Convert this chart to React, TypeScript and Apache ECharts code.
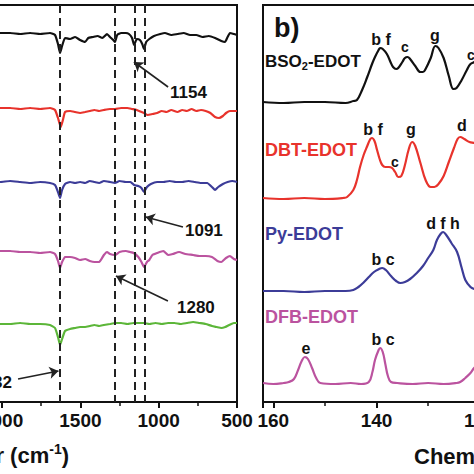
import React, { useEffect, useRef } from "react";
import * as echarts from "echarts";

const FONT = '"Liberation Sans", Arial, sans-serif';

// ---------- Panel a) FT-IR (wavenumber cm-1, offset trace position) ----------
const IR_RANGE = { min: 500, max: 2141, interval: 500 };
const IR_MARKERS = [1632, 1280, 1154, 1091];

const IR_BSO2: [number, number][] = [
  [2141, 33], [2013, 33], [1949, 33], [1885, 34], [1821, 33], [1757, 34], [1694, 33], [1662, 35],
  [1643, 44], [1630, 53], [1617, 46], [1598, 38], [1566, 39], [1534, 37], [1502, 40], [1470, 42],
  [1450, 38], [1420, 37], [1390, 36], [1360, 38], [1330, 34], [1311, 37], [1290, 40], [1279, 42],
  [1265, 35], [1240, 33], [1210, 33], [1190, 34], [1170, 38], [1157, 45], [1140, 39], [1120, 40],
  [1105, 44], [1094, 49], [1080, 42], [1060, 39], [1030, 36], [990, 34], [960, 33], [920, 35],
  [880, 34], [840, 33], [800, 35], [760, 35], [720, 37], [680, 36], [640, 38], [600, 41],
  [577, 42], [560, 37], [545, 33], [520, 34], [500, 35],
];
const IR_DBT: [number, number][] = [
  [2141, 108], [2013, 108], [1949, 108], [1885, 109], [1821, 108], [1757, 109], [1694, 108], [1662, 110],
  [1643, 118], [1625, 127], [1610, 119], [1598, 112], [1566, 111], [1534, 112], [1502, 113], [1470, 112],
  [1440, 111], [1410, 110], [1380, 111], [1350, 110], [1311, 109], [1279, 109], [1240, 108], [1200, 108],
  [1170, 109], [1140, 110], [1110, 112], [1094, 113], [1070, 115], [1040, 114], [1010, 113], [980, 111],
  [950, 112], [920, 110], [880, 112], [850, 110], [820, 111], [790, 109], [760, 111], [730, 110],
  [700, 111], [670, 113], [640, 117], [615, 118], [590, 116], [570, 113], [545, 111], [500, 111],
];
const IR_PY: [number, number][] = [
  [2141, 182], [2013, 182], [1949, 181], [1885, 182], [1821, 183], [1757, 182], [1694, 183], [1662, 185],
  [1643, 192], [1630, 198], [1617, 190], [1598, 184], [1566, 182], [1534, 183], [1502, 182], [1470, 183],
  [1440, 181], [1410, 182], [1380, 183], [1350, 181], [1311, 182], [1279, 183], [1250, 181], [1210, 182],
  [1180, 182], [1157, 185], [1130, 186], [1110, 188], [1094, 192], [1075, 187], [1050, 184], [1010, 182],
  [970, 182], [930, 181], [890, 182], [850, 182], [810, 181], [770, 182], [730, 183], [690, 183],
  [660, 187], [640, 190], [620, 187], [590, 184], [560, 182], [530, 181], [500, 182],
];
const IR_DFB: [number, number][] = [
  [2141, 251], [2013, 251], [1949, 251], [1885, 252], [1821, 252], [1757, 253], [1694, 252], [1662, 254],
  [1643, 261], [1630, 268], [1617, 262], [1598, 257], [1566, 257], [1534, 258], [1502, 260], [1470, 259],
  [1440, 261], [1410, 262], [1380, 262], [1350, 255], [1330, 252], [1311, 254], [1279, 255], [1250, 252],
  [1210, 251], [1183, 252], [1160, 253], [1130, 257], [1110, 262], [1094, 267], [1075, 262], [1060, 260],
  [1040, 255], [1010, 253], [970, 251], [940, 255], [910, 254], [870, 252], [830, 254], [780, 255],
  [740, 256], [700, 256], [660, 257], [625, 261], [600, 262], [570, 258], [545, 256], [520, 259], [500, 260],
];
const IR_EDOT: [number, number][] = [
  [2141, 324], [2013, 324], [1949, 324], [1885, 323], [1821, 324], [1757, 324], [1694, 325], [1662, 328],
  [1643, 337], [1630, 345], [1617, 339], [1598, 331], [1566, 329], [1534, 328], [1502, 327], [1470, 327],
  [1440, 326], [1410, 325], [1380, 326], [1350, 325], [1311, 324], [1279, 323], [1240, 323], [1200, 324],
  [1160, 323], [1120, 323], [1094, 323], [1060, 324], [1020, 323], [980, 324], [940, 323], [900, 323],
  [860, 324], [820, 323], [780, 322], [740, 323], [700, 324], [660, 326], [630, 327], [600, 328],
  [575, 327], [550, 325], [520, 323], [500, 323],
];

// annotation arrows: label, tail [w, pos], head [w, pos]
const IR_NOTES: { label: string; tail: [number, number]; head: [number, number] }[] = [
  { label: "1154", tail: [940, 87], head: [1158, 62] },
  { label: "1091", tail: [845, 227], head: [1083, 217] },
  { label: "1280", tail: [941, 301], head: [1273, 276] },
  { label: "1632", tail: [1898, 379], head: [1640, 371] },
];

// ---------- Panel b) 13C NMR (ppm) ----------
const NMR_RANGE = { min: 100, max: 162, interval: 20 };

const NMR_BSO2: [number, number][] = [
  [162, 102], [158, 103], [154, 102], [150, 102], [146, 103], [144.5, 101], [143.8, 100], [142.8, 90],
  [141.8, 77], [140.8, 63], [140.3, 57], [139.6, 50], [139.3, 48], [138.8, 49], [138, 54], [137.3, 62],
  [136.8, 67], [136.2, 69], [135.8, 68], [135, 62], [134.5, 58], [134, 57], [133.5, 59], [132.5, 66],
  [131.5, 72], [131, 72], [130.5, 69], [129.5, 58], [128.6, 46], [128, 48], [127, 58], [126, 76],
  [125.1, 89], [124.5, 88], [123.5, 80], [122.5, 70], [121.8, 64], [121, 62], [120.5, 60], [119.5, 58],
  [118.5, 60], [117, 66],
];
const NMR_DBT: [number, number][] = [
  [162, 198], [158, 199], [154, 198], [150, 199], [146.5, 198], [145.7, 197], [144.5, 190], [143.8, 180],
  [143.2, 167], [142.5, 155], [141.8, 146], [141.2, 139], [140.9, 138], [140.4, 141], [139.9, 150],
  [139.4, 159], [138.9, 165], [138.3, 167], [137.6, 167], [137, 168], [136.4, 172], [135.8, 177],
  [135.2, 176], [134.5, 165], [133.8, 150], [133.1, 142], [132.5, 146], [131.5, 163], [130.5, 180],
  [129.5, 187], [128.8, 187], [128, 184], [127, 176], [126, 162], [125, 148], [124.3, 139], [123.8, 137],
  [123, 139], [122, 142], [121, 143], [120, 145], [118, 150],
];
const NMR_PY: [number, number][] = [
  [162, 291], [158, 291], [154, 292], [150, 291], [146, 291], [144.5, 290], [143.5, 287], [142.6, 283],
  [141.5, 277], [140.5, 272], [139.5, 269], [138.9, 268], [138.2, 270], [137.2, 276], [136.2, 281],
  [135.4, 283], [134.5, 282], [133.5, 279], [132.2, 273], [131, 266], [130, 258], [129, 250], [128.3, 240],
  [127.6, 234], [127.1, 232], [126.5, 235], [125.5, 243], [124.4, 252], [123.5, 268], [122.8, 280],
  [121.8, 287], [121.1, 289], [120, 290], [118, 290],
];
const NMR_DFB: [number, number][] = [
  [162, 383], [160, 384], [158, 383], [157, 382], [156, 379], [155.2, 370], [154.5, 361], [153.9, 357],
  [153.3, 359], [152.5, 368], [151.7, 378], [150.9, 383], [148, 384], [145, 383], [143, 384], [141.5, 382],
  [140.8, 372], [140.3, 360], [139.6, 350], [139.3, 348], [138.8, 352], [138.3, 364], [137.8, 376],
  [137.2, 382], [136, 383], [133, 384], [130, 383], [127, 384], [124.5, 383], [123.8, 382], [122.8, 378],
  [121.8, 373], [121.1, 368], [120, 362], [118, 355],
];

const COLORS = {
  black: "#111111",
  red: "#e8332c",
  blue: "#3c3c98",
  magenta: "#bb539f",
  green: "#5cb639",
};

const axisCommon = (gridIndex: number, r: { min: number; max: number; interval: number }) => ({
  type: "value" as const,
  gridIndex,
  min: r.min,
  max: r.max,
  interval: r.interval,
  inverse: true,
  splitLine: { show: false },
  axisLine: { show: true, onZero: false, lineStyle: { color: "#111", width: 2 } },
  axisTick: { show: true, inside: false, length: 6, lineStyle: { color: "#111", width: 2 } },
  minorTick: { show: true, splitNumber: 2, length: 4, lineStyle: { color: "#111", width: 1.5 } },
  axisLabel: {
    color: "#111",
    fontFamily: FONT,
    fontWeight: "bold",
    fontSize: 19,
    margin: 9,
    formatter: (v: number) => String(v),
  },
});

function txt(text: string, x: number, y: number, size: number, fill = "#111", align = "center", vAlign = "middle") {
  return {
    type: "text",
    x,
    y,
    silent: true,
    style: {
      text,
      fill,
      font: `bold ${size}px ${FONT}`,
      align,
      textAlign: align,
      verticalAlign: vAlign,
      textVerticalAlign: vAlign,
    },
  };
}

function richTxt(text: string, x: number, y: number, size: number, fill: string, align: string, sub: "sub" | "sup") {
  return {
    type: "text",
    x,
    y,
    silent: true,
    style: {
      text,
      fill,
      align,
      textAlign: align,
      verticalAlign: "middle",
      textVerticalAlign: "middle",
      rich: {
        a: { fontFamily: FONT, fontWeight: "bold", fontSize: size, fill, lineHeight: size + 4 },
        s: {
          fontFamily: FONT,
          fontWeight: "bold",
          fontSize: Math.round(size * 0.62),
          fill,
          verticalAlign: sub === "sub" ? "bottom" : "top",
          lineHeight: size + 4,
        },
      },
    },
  };
}

export default function App() {
  const ref = useRef<HTMLDivElement>(null);

  useEffect(() => {
    if (!ref.current) return;
    const chart = echarts.init(ref.current, undefined, { renderer: "svg" });

    const irLine = (data: [number, number][], color: string, extra: any = {}) => ({
      type: "line",
      xAxisIndex: 0,
      yAxisIndex: 0,
      data,
      showSymbol: false,
      symbol: "none",
      smooth: 0.15,
      silent: true,
      lineStyle: { color, width: 2.2 },
      ...extra,
    });
    const nmrLine = (data: [number, number][], color: string) => ({
      type: "line",
      xAxisIndex: 1,
      yAxisIndex: 1,
      data,
      showSymbol: false,
      symbol: "none",
      smooth: 0.4,
      silent: true,
      lineStyle: { color, width: 2.2 },
    });

    const gridBase = {
      top: 5,
      height: 397,
      show: true,
      borderColor: "#111",
      borderWidth: 2,
      backgroundColor: "transparent",
      containLabel: false,
      outerBoundsMode: "none",
    };

    const option: any = {
      animation: false,
      backgroundColor: "#ffffff",
      grid: [
        { ...gridBase, left: -20, width: 257 },
        { ...gridBase, left: 263, width: 320 },
      ],
      xAxis: [axisCommon(0, IR_RANGE), axisCommon(1, NMR_RANGE)],
      yAxis: [
        { type: "value", gridIndex: 0, min: 5, max: 402, inverse: true, show: false },
        { type: "value", gridIndex: 1, min: 5, max: 402, inverse: true, show: false },
      ],
      series: [
        irLine(IR_BSO2, COLORS.black),
        irLine(IR_DBT, COLORS.red),
        irLine(IR_PY, COLORS.blue),
        irLine(IR_DFB, COLORS.magenta),
        irLine(IR_EDOT, COLORS.green, {
          markLine: {
            silent: true,
            symbol: "none",
            label: { show: false },
            lineStyle: { type: [8, 5], width: 2, color: "#222" },
            data: IR_MARKERS.map((w) => ({ xAxis: w })),
          },
        }),
        {
          type: "line",
          xAxisIndex: 0,
          yAxisIndex: 0,
          data: [],
          silent: true,
          markLine: {
            silent: true,
            symbol: ["none", "arrow"],
            symbolSize: 9,
            label: { show: false },
            lineStyle: { type: "solid", width: 1.6, color: "#222" },
            data: IR_NOTES.map((n) => [{ coord: n.tail }, { coord: n.head }]),
          },
        },
        nmrLine(NMR_BSO2, COLORS.black),
        nmrLine(NMR_DBT, COLORS.red),
        nmrLine(NMR_PY, COLORS.blue),
        nmrLine(NMR_DFB, COLORS.magenta),
      ],
      graphic: [
        // IR annotations
        txt("1154", 170, 92, 17, "#111", "left"),
        txt("1091", 185, 230, 17, "#111", "left"),
        txt("1280", 177, 307, 17, "#111", "left"),
        txt("1632", 12, 382, 17, "#111", "right"),
        // axis titles
        richTxt("{a|Wavenumber (cm}{s|-1}{a|)}", 69, 455, 22, "#111", "right", "sup"),
        txt("Chemical Shift (ppm)", 414, 456, 22, "#111", "left"),
        // NMR panel
        txt("b)", 274, 28, 27, "#111", "left"),
        richTxt("{a|BSO}{s|2}{a|-EDOT}", 265, 61, 17, "#111", "left", "sub"),
        txt("DBT-EDOT", 265, 150, 18, COLORS.red, "left"),
        txt("Py-EDOT", 265, 234, 18, COLORS.blue, "left"),
        txt("DFB-EDOT", 265, 317, 18, COLORS.magenta, "left"),
        // peak labels
        txt("b f", 381, 39, 16),
        txt("c", 405, 47, 14),
        txt("g", 435, 35, 16),
        txt("c", 467, 55, 14, "#111", "left"),
        txt("b f", 373, 129, 16),
        txt("c", 395, 162, 14),
        txt("g", 411, 129, 16),
        txt("d", 462, 125, 16),
        txt("d f h", 443, 223, 16),
        txt("b c", 383, 259, 16),
        txt("e", 306, 348, 16),
        txt("b c", 383, 339, 16),
      ],
    };

    chart.setOption(option);
    return () => chart.dispose();
  }, []);

  return (
    <div
      ref={ref}
      style={{ position: "fixed", left: 0, top: 0, width: 474, height: 474, background: "#fff" }}
    />
  );
}
